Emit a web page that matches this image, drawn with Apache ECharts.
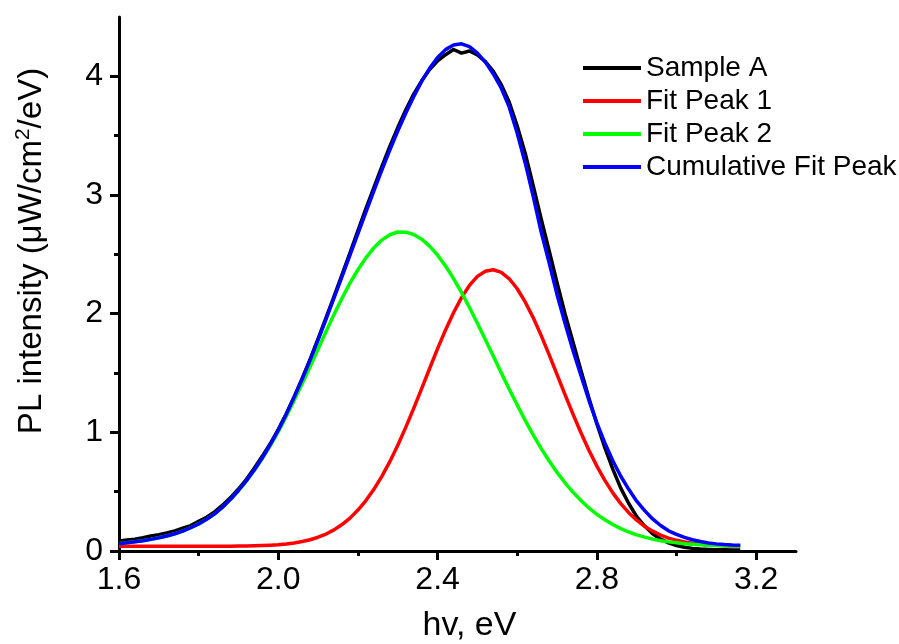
<!DOCTYPE html>
<html>
<head>
<meta charset="utf-8">
<script src="https://cdn.jsdelivr.net/npm/echarts@6/dist/echarts.min.js"></script>
<style>
  html, body { margin: 0; padding: 0; background: #fff; }
  #chart { width: 899px; height: 644px; }
</style>
</head>
<body>
<div id="chart"></div>
<script>
// photon energy, eV (same grid for the measured spectrum and the fits)
var energy = [1.60, 1.62, 1.64, 1.66, 1.68, 1.70, 1.72, 1.74, 1.76, 1.78,
              1.80, 1.82, 1.84, 1.86, 1.88, 1.90, 1.92, 1.94, 1.96, 1.98,
              2.00, 2.02, 2.04, 2.06, 2.08, 2.10, 2.12, 2.14, 2.16, 2.18,
              2.20, 2.22, 2.24, 2.26, 2.28, 2.30, 2.32, 2.34, 2.36, 2.38,
              2.40, 2.42, 2.44, 2.46, 2.48, 2.50, 2.52, 2.54, 2.56, 2.58,
              2.60, 2.62, 2.64, 2.66, 2.68, 2.70, 2.72, 2.74, 2.76, 2.78,
              2.80, 2.82, 2.84, 2.86, 2.88, 2.90, 2.92, 2.94, 2.96, 2.98,
              3.00, 3.02, 3.04, 3.06, 3.08, 3.10, 3.12, 3.14, 3.16];

var sampleA = [0.085, 0.092, 0.100, 0.112, 0.126, 0.138, 0.152, 0.170, 0.192, 0.214,
               0.250, 0.284, 0.330, 0.386, 0.450, 0.522, 0.604, 0.700, 0.800, 0.906,
               1.025, 1.156, 1.300, 1.455, 1.616, 1.790, 1.966, 2.146, 2.330, 2.512,
               2.700, 2.886, 3.062, 3.240, 3.410, 3.568, 3.716, 3.850, 3.962, 4.058,
               4.130, 4.182, 4.226, 4.196, 4.214, 4.180, 4.124, 4.042, 3.930, 3.782,
               3.582, 3.352, 3.080, 2.800, 2.532, 2.262, 2.000, 1.762, 1.522, 1.290,
               1.070, 0.870, 0.690, 0.530, 0.400, 0.290, 0.210, 0.145, 0.100, 0.068,
               0.046, 0.032, 0.022, 0.016, 0.013, 0.011, 0.010, 0.009, 0.009];

var peak1 = [0.040, 0.040, 0.040, 0.040, 0.040, 0.040, 0.040, 0.040, 0.040, 0.040,
             0.040, 0.040, 0.040, 0.041, 0.041, 0.042, 0.043, 0.044, 0.046, 0.049,
             0.053, 0.059, 0.068, 0.080, 0.095, 0.116, 0.143, 0.178, 0.223, 0.277,
             0.345, 0.425, 0.520, 0.629, 0.753, 0.891, 1.042, 1.202, 1.369, 1.538,
             1.705, 1.863, 2.008, 2.135, 2.238, 2.314, 2.358, 2.370, 2.348, 2.294,
             2.210, 2.099, 1.967, 1.817, 1.655, 1.487, 1.318, 1.153, 0.996, 0.849,
             0.715, 0.595, 0.490, 0.399, 0.323, 0.260, 0.208, 0.167, 0.134, 0.109,
             0.090, 0.076, 0.065, 0.057, 0.052, 0.048, 0.045, 0.043, 0.042];

var peak2 = [0.062, 0.070, 0.078, 0.087, 0.098, 0.111, 0.126, 0.145, 0.168, 0.196,
             0.228, 0.267, 0.312, 0.368, 0.435, 0.508, 0.590, 0.681, 0.780, 0.889,
             1.005, 1.134, 1.270, 1.410, 1.555, 1.703, 1.850, 1.994, 2.130, 2.257,
             2.370, 2.470, 2.555, 2.620, 2.665, 2.688, 2.687, 2.667, 2.628, 2.569,
             2.493, 2.402, 2.296, 2.179, 2.052, 1.919, 1.781, 1.641, 1.501, 1.363,
             1.230, 1.101, 0.979, 0.865, 0.760, 0.662, 0.575, 0.496, 0.425, 0.363,
             0.309, 0.263, 0.223, 0.189, 0.160, 0.136, 0.117, 0.100, 0.087, 0.077,
             0.069, 0.062, 0.057, 0.053, 0.049, 0.047, 0.045, 0.044, 0.043];

var cumulative = [0.062, 0.070, 0.078, 0.087, 0.098, 0.111, 0.126, 0.145, 0.168, 0.196,
                  0.228, 0.267, 0.313, 0.369, 0.436, 0.510, 0.593, 0.685, 0.786, 0.898,
                  1.018, 1.153, 1.298, 1.450, 1.610, 1.779, 1.953, 2.132, 2.313, 2.494,
                  2.675, 2.855, 3.035, 3.209, 3.378, 3.539, 3.689, 3.829, 3.957, 4.067,
                  4.158, 4.225, 4.264, 4.274, 4.250, 4.195, 4.120, 4.020, 3.900, 3.740,
                  3.520, 3.270, 2.990, 2.690, 2.430, 2.160, 1.920, 1.690, 1.480, 1.270,
                  1.080, 0.910, 0.760, 0.630, 0.520, 0.420, 0.340, 0.270, 0.215, 0.170,
                  0.140, 0.115, 0.095, 0.080, 0.068, 0.060, 0.054, 0.050, 0.048];

var xMajor = [1.6, 2.0, 2.4, 2.8, 3.2];
var xMinor = [1.8, 2.2, 2.6, 3.0];
var yMajor = [0, 1, 2, 3, 4];
var yMinor = [0.5, 1.5, 2.5, 3.5];

function pairs(xs, ys) {
    return xs.map(function (x, i) { return [x, ys[i]]; });
}

var font = 'Liberation Sans, Arial, sans-serif';
var myChart = echarts.init(document.getElementById('chart'));

function lineSeries(name, color, values) {
    return {
        name: name,
        type: 'line',
        data: pairs(energy, values),
        showSymbol: false,
        color: color,
        lineStyle: { width: 3.5, color: color, join: 'round' },
        emphasis: { disabled: true }
    };
}

myChart.setOption({
    animation: false,
    grid: { left: 119, right: 103, top: 17, bottom: 93, outerBoundsMode: 'none' },
    legend: {
        orient: 'vertical',
        left: 583,
        top: 54,
        icon: 'rect',
        itemWidth: 58,
        itemHeight: 4,
        itemGap: 5,
        padding: 0,
        selectedMode: false,
        textStyle: { fontFamily: font, fontSize: 28, color: '#000' },
        data: ['Sample A', 'Fit Peak 1', 'Fit Peak 2', 'Cumulative Fit Peak']
    },
    xAxis: [{
        type: 'value',
        min: 1.6,
        max: 3.3,
        name: 'hv, eV',
        nameLocation: 'middle',
        nameGap: 58,
        nameTextStyle: { fontFamily: font, fontSize: 34, color: '#000', padding: [0, 0, 0, 24] },
        axisLine: { lineStyle: { color: '#000', width: 3 } },
        axisTick: { customValues: xMajor, length: 9, lineStyle: { color: '#000', width: 3 } },
        axisLabel: {
            customValues: xMajor, margin: 13,
            fontFamily: font, fontSize: 32, color: '#000',
            formatter: function (v) { return v.toFixed(1); }
        },
        splitLine: { show: false }
    }, {
        type: 'value',
        min: 1.6,
        max: 3.3,
        position: 'bottom',
        axisLine: { show: false },
        axisTick: { customValues: xMinor, length: 5, lineStyle: { color: '#000', width: 3 } },
        axisLabel: { show: false },
        splitLine: { show: false }
    }],
    yAxis: [{
        type: 'value',
        min: 0,
        max: 4.5,
        name: 'PL intensity (\u03bcW/cm{sup|2}/eV)',
        nameLocation: 'middle',
        nameGap: 69,
        nameTextStyle: {
            fontFamily: font, fontSize: 33, color: '#000',
            padding: [0, 0, 0, 66],
            rich: { sup: { fontFamily: font, fontSize: 21, color: '#000', verticalAlign: 'top', padding: [0, 0, 16, 0] } }
        },
        axisLine: { lineStyle: { color: '#000', width: 3 } },
        axisTick: { customValues: yMajor, length: 9, lineStyle: { color: '#000', width: 3 } },
        axisLabel: {
            customValues: yMajor, margin: 16,
            fontFamily: font, fontSize: 32, color: '#000'
        },
        splitLine: { show: false }
    }, {
        type: 'value',
        min: 0,
        max: 4.5,
        position: 'left',
        axisLine: { show: false },
        axisTick: { customValues: yMinor, length: 5, lineStyle: { color: '#000', width: 3 } },
        axisLabel: { show: false },
        splitLine: { show: false }
    }],
    series: [
        lineSeries('Sample A', '#000000', sampleA),
        lineSeries('Fit Peak 1', '#ff0000', peak1),
        lineSeries('Fit Peak 2', '#00ff00', peak2),
        lineSeries('Cumulative Fit Peak', '#0000ff', cumulative)
    ]
});
</script>
</body>
</html>
